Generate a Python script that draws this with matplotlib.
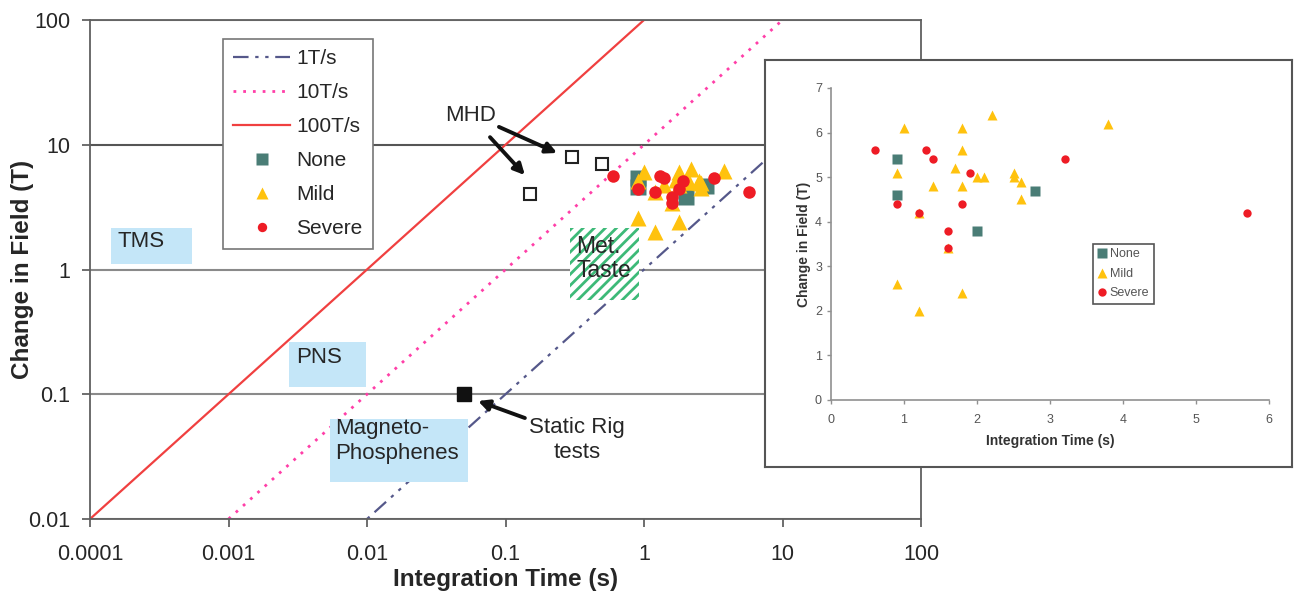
import matplotlib
matplotlib.use('Agg')
import matplotlib.pyplot as plt
import numpy as np
from matplotlib.patches import Rectangle

plt.rcParams['font.family'] = ['Liberation Sans', 'DejaVu Sans']
plt.rcParams['hatch.linewidth'] = 2.0

# ---------------- data ----------------
none_t = [0.9, 0.9, 2.0, 2.8]
none_b = [5.4, 4.6, 3.8, 4.7]
mild_t = [1.0, 2.2, 1.8, 3.8, 1.8, 0.9, 1.7, 1.4, 1.8, 2.0, 2.1, 2.5, 2.5, 2.6, 2.6, 1.2, 1.6, 0.9, 1.2, 1.8]
mild_b = [6.1, 6.4, 6.1, 6.2, 5.6, 5.1, 5.2, 4.8, 4.8, 5.0, 5.0, 5.1, 5.0, 4.9, 4.5, 4.2, 3.4, 2.6, 2.0, 2.4]
severe_t = [0.6, 1.3, 1.4, 1.9, 3.2, 0.9, 1.2, 1.8, 1.6, 1.6, 5.7]
severe_b = [5.6, 5.6, 5.4, 5.1, 5.4, 4.4, 4.2, 4.4, 3.8, 3.4, 4.2]
mhd_t = [0.15, 0.3, 0.5]
mhd_b = [4.0, 8.0, 7.0]
rig_t = [0.05]
rig_b = [0.1]
rates = [1, 10, 100]
rate_labels = ['1T/s', '10T/s', '100T/s']
t_range = [1e-4, 10]
x_ticks = [0.0001, 0.001, 0.01, 0.1, 1, 10, 100]
x_ticklabels = ['0.0001', '0.001', '0.01', '0.1', '1', '10', '100']
y_ticks = [0.01, 0.1, 1, 10, 100]
y_ticklabels = ['0.01', '0.1', '1', '10', '100']
inset_xticks = [0, 1, 2, 3, 4, 5, 6]
inset_yticks = [0, 1, 2, 3, 4, 5, 6, 7]

# ---------------- styles ----------------
c_none = '#4a7d76'
c_mild = '#ffc20e'
c_sev = '#ee1c25'
line_styles = [
    dict(color='#55588a', lw=1.6, dashes=(7, 3, 1.5, 3, 1.5, 3)),
    dict(color='#ff3fa8', lw=2.0, dashes=(1, 2.5)),
    dict(color='#f04040', lw=1.6),
]
txt_col = '#262626'

fig = plt.figure(figsize=(12.95, 5.96), dpi=100)
W, H = 1295, 596
ax = fig.add_axes([90 / W, (H - 519) / H, 831 / W, 499 / H])
ax.set_xscale('log')
ax.set_yscale('log')
ax.set_xlim(1e-4, 100)
ax.set_ylim(0.01, 100)

t = np.array(t_range, dtype=float)
for r, lab, st in zip(rates, rate_labels, line_styles):
    ax.plot(t, r * t, label=lab, zorder=2, **st)

ax.set_xticks(x_ticks)
ax.set_xticklabels(x_ticklabels)
ax.set_yticks(y_ticks)
ax.set_yticklabels(y_ticklabels)
ax.minorticks_off()
ax.tick_params(axis='both', labelsize=15.5, colors='#555555', labelcolor=txt_col,
               direction='out', length=6, width=1.2)
ax.tick_params(axis='x', pad=12)
ax.tick_params(axis='y', pad=8)
ax.yaxis.grid(True, color='#8a8a8a', lw=1.5, zorder=1)
ax.set_axisbelow(True)
glines = ax.get_ygridlines()
if len(glines) >= 4:
    glines[3].set_color('#555555')
for sp in ax.spines.values():
    sp.set_color('#606060')
    sp.set_linewidth(1.3)

# region boxes
boxes = [
    (0.0253, 0.511, 0.097, 0.072),
    (0.2395, 0.2645, 0.0925, 0.090),
    (0.2888, 0.0741, 0.1661, 0.1263),
]
for x0, y0, w, h in boxes:
    ax.add_patch(Rectangle((x0, y0), w, h, transform=ax.transAxes, facecolor='#c4e6f8',
                           edgecolor='none', zorder=3))
ax.text(0.0325, 0.556, 'TMS', transform=ax.transAxes, fontsize=16, color=txt_col,
        va='center', ha='left', zorder=4)
ax.text(0.248, 0.324, 'PNS', transform=ax.transAxes, fontsize=16, color=txt_col,
        va='center', ha='left', zorder=4)
ax.text(0.295, 0.156, 'Magneto-\nPhosphenes', transform=ax.transAxes, fontsize=16,
        color=txt_col, va='center', ha='left', zorder=4, linespacing=1.25)
ax.add_patch(Rectangle((0.5776, 0.4389), 0.083, 0.1443, transform=ax.transAxes,
                       facecolor='white', edgecolor='#3dba78', hatch='///', lw=0, zorder=3))
ax.text(0.585, 0.522, 'Met.\nTaste', transform=ax.transAxes, fontsize=16.5,
        color=txt_col, va='center', ha='left', zorder=4, linespacing=1.1)

# markers
ax.plot(none_t, none_b, 's', color=c_none, ms=11, mec='none', zorder=5, label='None')
ax.plot(mild_t, mild_b, '^', color=c_mild, ms=11, mec='none', zorder=6, label='Mild')
ax.plot(severe_t, severe_b, 'o', color=c_sev, ms=9, mec='none', zorder=7, label='Severe')
ax.plot(mhd_t, mhd_b, 's', mfc='white', mec='#222222', mew=1.5, ms=9, zorder=5)
ax.plot(rig_t, rig_b, 's', color='#111111', ms=10, zorder=5)

# annotations
arrow = dict(arrowstyle='-|>', color='#111111', lw=2.8, mutation_scale=16,
             shrinkA=0, shrinkB=0)
ax.annotate('', xy=(0.236, 8.59), xytext=(0.0897, 13.9), arrowprops=arrow, zorder=8)
ax.annotate('', xy=(0.138, 5.71), xytext=(0.0773, 11.5), arrowprops=arrow, zorder=8)
ax.text(0.0555, 17.3, 'MHD', fontsize=16, color=txt_col, ha='center', va='center')
ax.annotate('', xy=(0.0633, 0.0883), xytext=(0.138, 0.0645), arrowprops=arrow, zorder=8)
ax.text(0.33, 0.043, 'Static Rig\ntests', fontsize=16, color=txt_col, ha='center',
        va='center', linespacing=1.3)

ax.set_xlabel('Integration Time (s)', fontsize=17.5, fontweight='bold', color=txt_col)
ax.set_ylabel('Change in Field (T)', fontsize=17.5, fontweight='bold', color=txt_col)
ax.xaxis.set_label_coords(0.5, -0.122)
ax.yaxis.set_label_coords(-0.0818, 0.5)
ax.xaxis.label.set_va('center')
ax.yaxis.label.set_va('center')

h_all, l_all = ax.get_legend_handles_labels()
leg = ax.legend(h_all, l_all, loc='upper left', bbox_to_anchor=(0.16, 0.962),
                borderaxespad=0, fontsize=15, frameon=True, fancybox=False,
                edgecolor='#777777', framealpha=1, handlelength=2.7,
                labelspacing=0.72, markerscale=0.75, borderpad=0.5, handletextpad=0.3)
leg.get_frame().set_linewidth(1.2)
for txt in leg.get_texts():
    txt.set_color(txt_col)

# ---------------- inset ----------------
bg = fig.add_axes([765 / W, (H - 467) / H, 527 / W, 407 / H])
bg.set_xticks([])
bg.set_yticks([])
for sp in bg.spines.values():
    sp.set_color('#555555')
    sp.set_linewidth(1.5)

ia = fig.add_axes([831 / W, (H - 400) / H, 438 / W, 312 / H])
ia.set_xlim(0, 6)
ia.set_ylim(0, 7)
ia.set_xticks(inset_xticks)
ia.set_yticks(inset_yticks)
ia.spines['top'].set_visible(False)
ia.spines['right'].set_visible(False)
for s in ('left', 'bottom'):
    ia.spines[s].set_color('#909090')
    ia.spines[s].set_linewidth(1.2)
ia.tick_params(axis='both', labelsize=9, colors='#909090', labelcolor='#555555',
               direction='out', length=3, width=1)
ia.tick_params(axis='x', pad=7)
ia.plot(none_t, none_b, 's', color=c_none, ms=6.5, mec='none', label='None', zorder=3)
ia.plot(mild_t, mild_b, '^', color=c_mild, ms=7, mec='none', label='Mild', zorder=4)
ia.plot(severe_t, severe_b, 'o', color=c_sev, ms=6, mec='none', label='Severe', zorder=5)
ia.set_xlabel('Integration Time (s)', fontsize=10, fontweight='bold', color='#333333',
              labelpad=6)
ia.set_ylabel('Change in Field (T)', fontsize=10, fontweight='bold', color='#333333',
              labelpad=3)
ileg = ia.legend(loc='upper left', bbox_to_anchor=(0.598, 0.5), borderaxespad=0,
                 fontsize=9, frameon=True, fancybox=False, edgecolor='#555555',
                 framealpha=1, handlelength=0.8, handletextpad=0.2, borderpad=0.35,
                 labelspacing=0.6)
ileg.get_frame().set_linewidth(1.2)
for txt in ileg.get_texts():
    txt.set_color('#555555')

fig.savefig('out.png', dpi=100)
